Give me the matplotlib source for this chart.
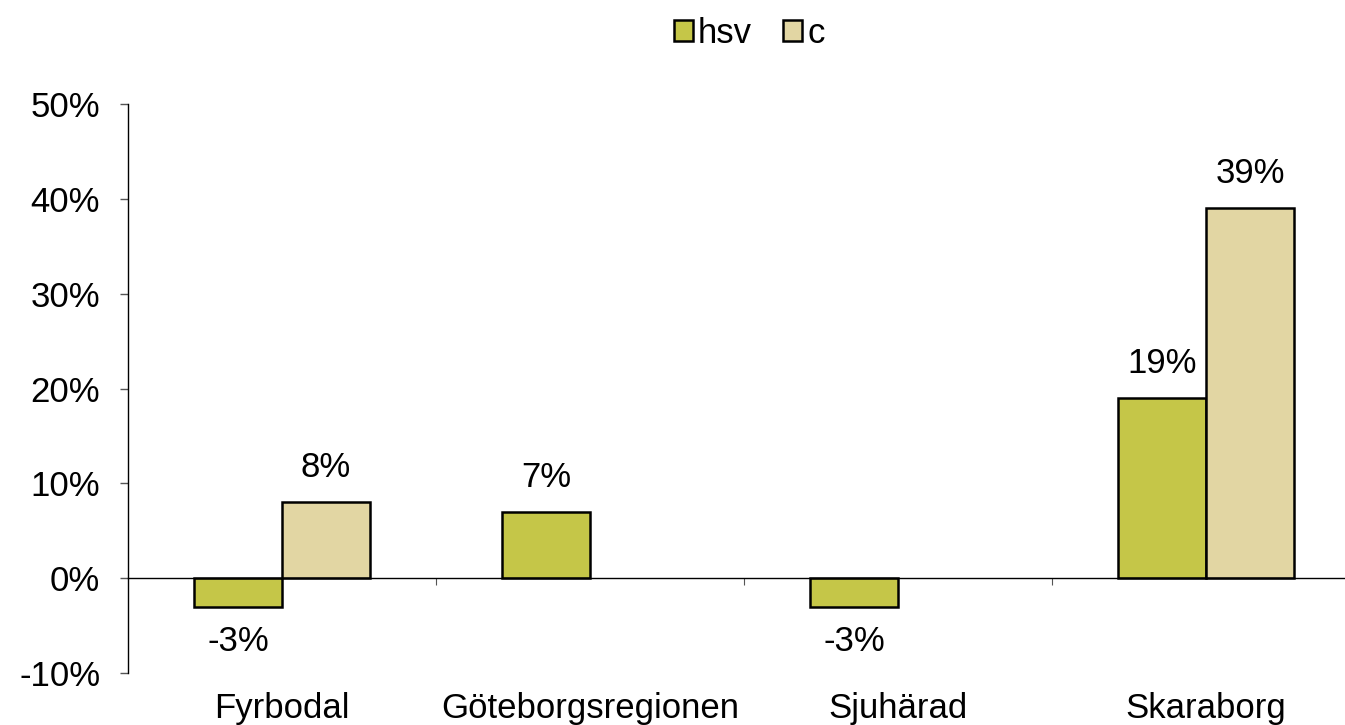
import numpy as np
import matplotlib.pyplot as plt
from matplotlib.ticker import FixedLocator, PercentFormatter

# data
regions = ["Fyrbodal", "Göteborgsregionen", "Sjuhärad", "Skaraborg"]
hsv = [-3, 7, -3, 19]
c = [8, np.nan, np.nan, 39]

plt.rcParams["font.family"] = ["Liberation Sans", "DejaVu Sans"]
plt.rcParams["font.size"] = 25
plt.rcParams["axes.unicode_minus"] = False

fig = plt.figure(figsize=(13.45, 7.25), dpi=100)
ax = fig.add_axes([128 / 1345, 52 / 725, 1232 / 1345, 569 / 725])

x = np.arange(len(regions))
w = 0.2857
b1 = ax.bar(x - w / 2, hsv, w, color="#c5c648", edgecolor="black", linewidth=1.8, label="hsv")
b2 = ax.bar(x + w / 2, c, w, color="#e2d6a3", edgecolor="black", linewidth=1.8, label="c")

ax.bar_label(b1, labels=[f"{v:.0f}%" for v in hsv], padding=13, fontsize=25)
ax.bar_label(b2, labels=["" if np.isnan(v) else f"{v:.0f}%" for v in c], padding=13, fontsize=25)

ax.set_xlim(-0.5, 3.5)
ax.set_ylim(-10, 50)
ax.set_yticks(np.arange(-10, 51, 10))
ax.yaxis.set_major_formatter(PercentFormatter(decimals=0))
ax.tick_params(axis="y", length=6, width=1, pad=14, labelsize=25, color="#555555")

# x axis sits on the zero line, labels pushed down to the bottom
ax.spines["bottom"].set_position(("data", 0))
ax.spines["bottom"].set_linewidth(1)
ax.spines["left"].set_linewidth(1)
ax.spines["top"].set_visible(False)
ax.spines["right"].set_visible(False)
ax.set_xticks(x)
ax.set_xticklabels(regions)
ax.xaxis.set_minor_locator(FixedLocator([0.5, 1.5, 2.5]))
ax.tick_params(axis="x", which="major", length=0, pad=82, labelsize=25)
ax.tick_params(axis="x", which="minor", length=5, width=0.8, color="#555555")

fig.legend(loc="upper center", bbox_to_anchor=(0.557, 1.02), ncol=2, frameon=False,
           handlelength=0.55, handleheight=0.55, handletextpad=0.15, columnspacing=0.9, fontsize=25)

fig.savefig("out.png", dpi=100)
